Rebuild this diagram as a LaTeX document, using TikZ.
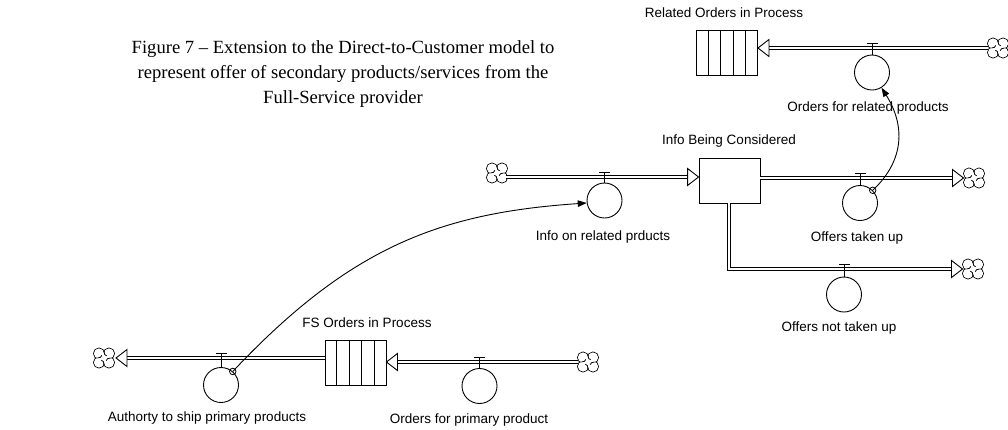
\documentclass[tikz,border=0pt]{standalone}
\usepackage{fontspec}
\setmainfont{Liberation Serif}
\newfontfamily\labelfont{Liberation Sans}
\usetikzlibrary{arrows.meta,calc}
\tikzset{
  vcloud/.pic={
    \foreach \a/\b in {-5/-4.5,5/-4.5,5/4.5,-5/4.5} \draw[line width=0.9pt] (\a,\b) circle[radius=5.5];
    \foreach \a/\b in {-5/-4.5,5/-4.5,5/4.5,-5/4.5} \fill[white] (\a,\b) circle[radius=5.05];
    \fill[white] (-5,-4.5) rectangle (5,4.5);
    \foreach \r in {0,90,180,270}
      \draw[line width=0.8pt, rotate=\r] (0,-6.6) .. controls (0,-4) and (1,-2.6) .. (2.6,-2.2);
  }
}
\begin{document}
\begin{tikzpicture}[x=1pt,y=-1pt,
  every node/.style={inner sep=0pt},
  lbl/.style={font=\labelfont\fontsize{13.5}{16}\selectfont},
  stockbox/.style={draw, line width=0.9pt, minimum width=61pt, minimum height=45pt},
  valvecirc/.style={draw, circle, line width=0.9pt, minimum size=35pt},
  pipe/.style={double, double distance=2.3pt, line width=0.9pt},
  tri/.style={draw, fill=white, line width=0.9pt, line join=miter},
  conn/.style={line width=0.9pt, -{Triangle[length=9pt,width=6.5pt]}},
  ring/.style={draw, circle, line width=0.8pt, minimum size=6.5pt},
  tbar/.style={line width=0.9pt},
]
\useasboundingbox (0,0) rectangle (1008,429);

% title
\node[align=center, font=\fontsize{18.6}{25}\selectfont] (title) at (343,74)
  {Figure 7 -- Extension to the Direct-to-Customer model to\\
   represent offer of secondary products/services from the\\
   Full-Service provider};

% stocks
\node[stockbox] (ro) at (727,52.5) {};
\node[stockbox] (ibc) at (729.5,180.5) {};
\node[stockbox] (fso) at (355.5,362.5) {};
\foreach \s in {ro,fso}
  \foreach \i in {1,...,4}
    \draw[line width=0.9pt] ($(\s.north west)!\i/5!(\s.north east)$) -- ($(\s.south west)!\i/5!(\s.south east)$);

% stock labels
\node[lbl] (lro) at (724,13) {Related Orders in Process};
\node[lbl] (libc) at (729,141) {Info Being Considered};
\node[lbl] (lfso) at (367,323) {FS Orders in Process};

% clouds
\coordinate (c1) at (998,48);
\coordinate (c2) at (497,173);
\coordinate (c3) at (974,178);
\coordinate (c4) at (973,269);
\coordinate (c5) at (104,358);
\coordinate (c6) at (588,362);
\foreach \c in {c1,c2,c3,c4,c5,c6} \pic at (\c) {vcloud};

% pipe end coordinates
\coordinate (p1a) at ($(c1)+(-10,0)$);
\coordinate (p1t) at (ro.east |- c1);
\coordinate (p2a) at ($(c2)+(9,4)$);
\coordinate (p2t) at (ibc.west |- p2a);
\coordinate (p3a) at ($(ibc.east)+(0,-2.5)$);
\coordinate (p3t) at ($(c3)+(-10.5,0)$);
\coordinate (p4a) at ($(ibc.south)+(-0.5,0)$);
\coordinate (p4t) at ($(c4)+(-10.5,0)$);
\coordinate (p4k) at (p4a |- p4t);
\coordinate (p5a) at (fso.west |- c5);
\coordinate (p5t) at ($(c5)+(12,0)$);
\coordinate (p6a) at ($(c6)+(-10,0)$);
\coordinate (p6t) at (fso.east |- c6);

% pipes
\draw[pipe] (p1a) -- ($(p1t)+(11,0)$);
\draw[tri] (p1t) -- ++(11,-8.5) -- ++(0,17) -- cycle;
\draw[pipe] (p2a) -- ($(p2t)+(-11,0)$);
\draw[tri] (p2t) -- ++(-11,-8.5) -- ++(0,17) -- cycle;
\draw[pipe] (p3a) -- ($(p3t)+(-11,0)$);
\draw[tri] (p3t) -- ++(-11,-8.5) -- ++(0,17) -- cycle;
\draw[pipe] (p4a) -- (p4k) -- ($(p4t)+(-11,0)$);
\draw[tri] (p4t) -- ++(-11,-8.5) -- ++(0,17) -- cycle;
\draw[pipe] (p5a) -- ($(p5t)+(11,0)$);
\draw[tri] (p5t) -- ++(11,-8.5) -- ++(0,17) -- cycle;
\draw[pipe] (p6a) -- ($(p6t)+(11,0)$);
\draw[tri] (p6t) -- ++(11,-8.5) -- ++(0,17) -- cycle;

% valves
\node[valvecirc] (v1) at (872,72.5) {};
\node[valvecirc] (v2) at (604.5,200.5) {};
\node[valvecirc] (v3) at (860,203) {};
\node[valvecirc] (v4) at (844,294.5) {};
\node[valvecirc] (v5) at (221,385) {};
\node[valvecirc] (v6) at (479.5,386) {};
\foreach \v/\p in {v1/p1t,v2/p2t,v3/p3t,v4/p4t,v5/p5t,v6/p6t}{
  \coordinate (\v b) at ($(\v.north |- \p)+(0,-4.5)$);
  \draw[tbar] (\v.north) -- (\v b);
  \draw[tbar] ($(\v b)+(-5.5,0)$) -- ($(\v b)+(5.5,0)$);
}

% valve labels
\node[lbl] (lv1) at (868,108) {Orders for related products};
\node[lbl] (lv2) at (603,237) {Info on related prducts};
\node[lbl] (lv3) at (857,238) {Offers taken up};
\node[lbl] (lv4) at (839,328) {Offers not taken up};
\node[lbl] (lv5) at (207,418) {Authorty to ship primary products};
\node[lbl] (lv6) at (469,420) {Orders for primary product};

% information connectors
\coordinate (s1) at (v5.49);
\draw[conn] (s1) .. controls (350,247) and (440,213) .. (v2.188);
\node[ring] (r1) at (s1) {};
\coordinate (s2) at (v3.45);
\draw[conn] (s2) .. controls (905,160) and (905,125) .. (v1.-58);
\node[ring] (r2) at (s2) {};
\end{tikzpicture}
\end{document}
